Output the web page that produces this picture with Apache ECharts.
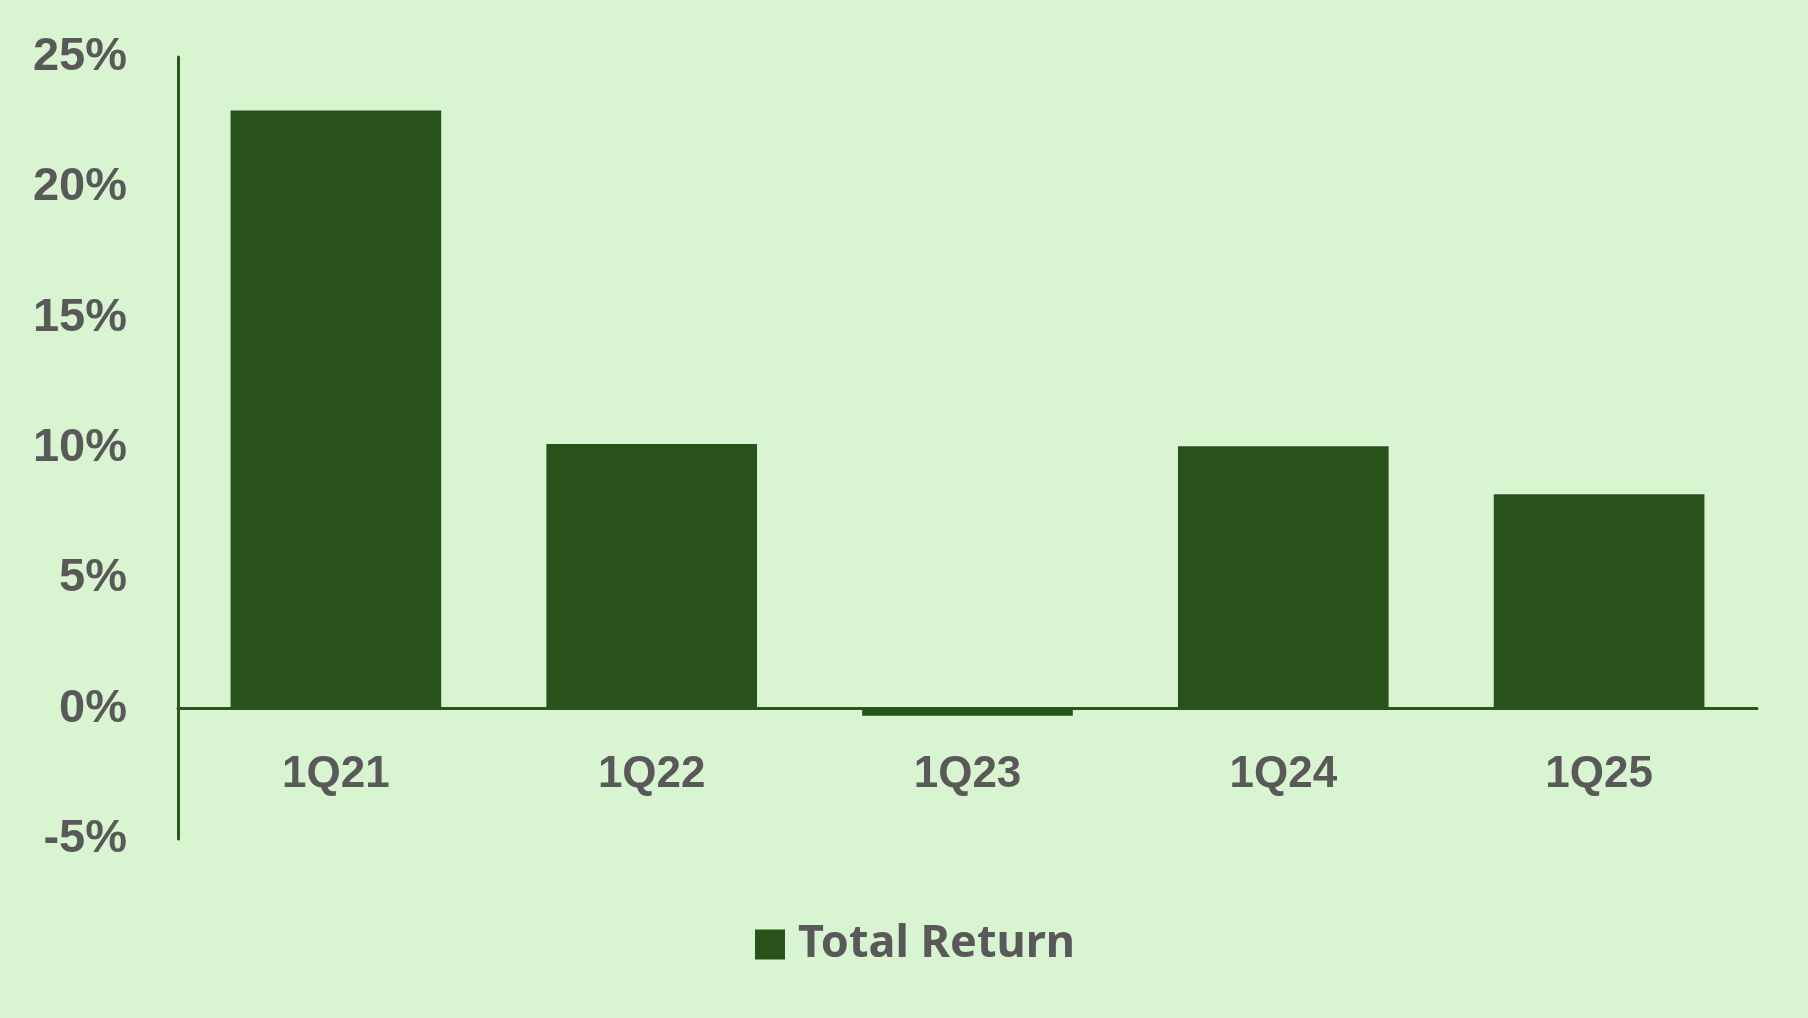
<!DOCTYPE html>
<html>
<head>
<meta charset="utf-8">
<script src="https://cdn.jsdelivr.net/npm/echarts@6/dist/echarts.min.js"></script>
<style>
html,body{margin:0;padding:0;background:#d9f4d1;}
#chart{width:1808px;height:1018px;}
</style>
</head>
<body>
<div id="chart"></div>
<script>
const categories = ['1Q21', '1Q22', '1Q23', '1Q24', '1Q25'];
const totalReturn = [22.95, 10.15, -0.27, 10.07, 8.23];
const seriesName = 'Total Return';
const yMin = -5, yMax = 25, yStep = 5;

const chart = echarts.init(document.getElementById('chart'));
chart.setOption({
  backgroundColor: '#d9f4d1',
  animation: false,
  grid: { left: 178, right: 51, top: 57, bottom: 179, containLabel: false },
  legend: {
    data: [seriesName],
    left: 750, top: 917,
    itemWidth: 30, itemHeight: 30, icon: 'rect',
    textStyle: { fontFamily: 'Noto Sans', fontWeight: 'bold', fontSize: 45, color: '#595959', padding: [0, 0, 0, 8] }
  },
  xAxis: {
    type: 'category',
    data: categories,
    axisLine: { show: true, onZero: true, lineStyle: { color: '#2b561b', width: 3 } },
    axisTick: { show: false },
    axisLabel: { fontFamily: 'Liberation Sans', fontWeight: 'bold', fontSize: 44, color: '#595959', margin: -86 }
  },
  yAxis: {
    type: 'value',
    min: yMin, max: yMax, interval: yStep,
    axisLine: { show: true, lineStyle: { color: '#2b561b', width: 3 } },
    axisTick: { show: false },
    splitLine: { show: false },
    axisLabel: { fontFamily: 'Liberation Sans', fontWeight: 'bold', fontSize: 47, color: '#595959', margin: 51, formatter: '{value}%' }
  },
  series: [{
    name: seriesName,
    type: 'bar',
    data: totalReturn,
    barCategoryGap: '33.3%',
    itemStyle: { color: '#285219' }
  }]
});
</script>
</body>
</html>
